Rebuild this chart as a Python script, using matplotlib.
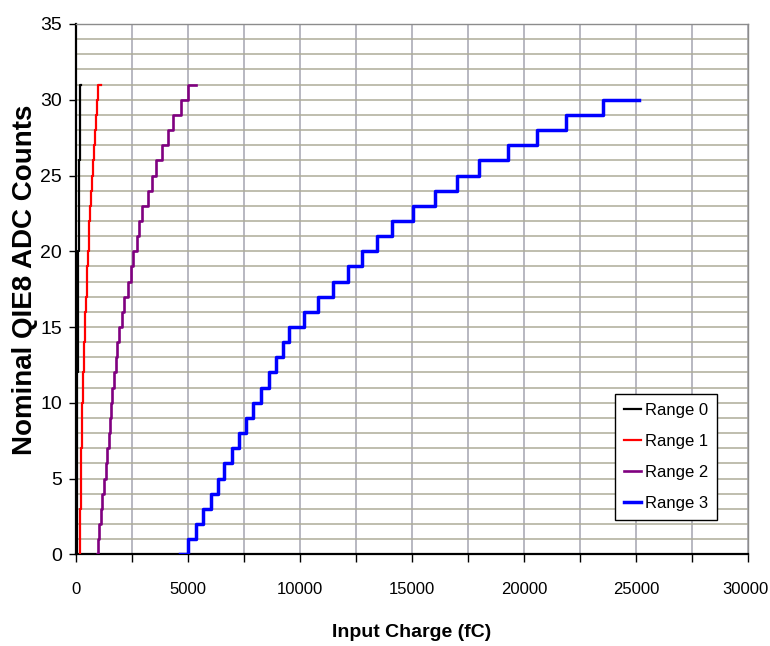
import matplotlib
matplotlib.use("Agg")
import matplotlib.pyplot as plt
import matplotlib.transforms as mtransforms
from matplotlib.ticker import MultipleLocator

# ---- data (transition points: x where the count becomes y; last point closes the step) ----
range0_x = [35, 37, 38, 40, 42, 44, 46, 47, 50, 53, 56, 60, 66, 71, 74, 78, 80,
            89, 95, 101, 107, 113, 120, 127, 134, 143, 152, 160, 169, 178, 188, 197, 215]
range0_y = list(range(0, 32)) + [31]

range1_x = [175, 185, 192, 200, 210, 220, 228, 237, 250, 265, 281, 300, 330, 357, 372, 388, 402,
            447, 475, 505, 536, 567, 600, 635, 670, 715, 759, 800, 845, 890, 940, 985, 1100]
range1_y = list(range(0, 32)) + [31]

range2_x = [920, 970, 1040, 1115, 1175, 1240, 1325, 1400, 1460, 1520, 1565, 1625, 1700, 1775, 1845,
            1930, 2040, 2157, 2336, 2443, 2561, 2710, 2814, 2960, 3202, 3381, 3573, 3827, 4095,
            4346, 4690, 5016, 5360]
range2_y = list(range(0, 32)) + [31]

range3_x = [4650, 5000, 5346, 5686, 6016, 6329, 6624, 6954, 7294, 7579, 7919, 8263, 8607, 8933,
            9232, 9527, 10183, 10822, 11492, 12162, 12787, 13430, 14100, 15038, 16034, 17030,
            18000, 19281, 20576, 21885, 23506, 25145]
range3_y = list(range(0, 31)) + [30]

series_names = ["Range 0", "Range 1", "Range 2", "Range 3"]
series_colors = ["#000000", "#ff0000", "#800080", "#0000ff"]
series_widths = [1.6, 1.6, 1.9, 2.5]

x_ticks = [0, 5000, 10000, 15000, 20000, 25000, 30000]
y_ticks = [0, 5, 10, 15, 20, 25, 30, 35]

FONT = "Liberation Sans"

fig = plt.figure(figsize=(7.7, 6.46), dpi=100)
ax = fig.add_axes([76 / 770, 1 - 554.3 / 646, 672 / 770, 530.3 / 646])

for xs, ys, name, c, lw in zip([range0_x, range1_x, range2_x, range3_x],
                               [range0_y, range1_y, range2_y, range3_y],
                               series_names, series_colors, series_widths):
    ax.plot(xs, ys, drawstyle="steps-post", color=c, lw=lw, label=name, zorder=3)

ax.set_xlim(0, 30000)
ax.set_ylim(0, 35)
ax.set_xticks(x_ticks)
ax.xaxis.set_minor_locator(MultipleLocator(2500))
ax.set_yticks(y_ticks)
ax.yaxis.set_minor_locator(MultipleLocator(1))

ax.grid(which="both", axis="y", color="#aeac98", lw=1.1, zorder=0)
ax.grid(which="both", axis="x", color="#a4a4b0", lw=1.1, zorder=0)
ax.set_axisbelow(True)

ax.tick_params(axis="x", which="both", direction="out", length=6, width=1, color="black",
               pad=14)
ax.tick_params(axis="y", which="major", direction="out", length=5, width=1, color="black", pad=5)
ax.tick_params(axis="y", which="minor", length=0)

xlabels = ax.get_xticklabels()
for lbl in xlabels:
    lbl.set_fontfamily(FONT)
    lbl.set_fontsize(12)
# nudge the last label a little so it stays inside the canvas
xlabels[-1].set_transform(xlabels[-1].get_transform() +
                          mtransforms.ScaledTranslation(-3 / 100, 0, fig.dpi_scale_trans))
for lbl in ax.get_yticklabels():
    lbl.set_fontfamily(FONT)
    lbl.set_fontsize(14)

for s in ["left", "bottom"]:
    ax.spines[s].set_color("black")
    ax.spines[s].set_linewidth(1.6)
for s in ["top", "right"]:
    ax.spines[s].set_color("#8c8c8c")
    ax.spines[s].set_linewidth(1.0)

ax.set_ylabel("Nominal QIE8 ADC Counts", fontfamily=FONT, fontweight="bold", fontsize=20)
ax.yaxis.set_label_coords(-0.056, 0.517)
ax.set_xlabel("Input Charge (fC)", fontfamily=FONT, fontweight="bold", fontsize=14)
ax.xaxis.set_label_coords(0.5, -0.147)
ax.xaxis.label.set_verticalalignment("center")

leg = ax.legend(loc="upper right", bbox_to_anchor=(0.954, 0.302), borderaxespad=0,
                prop={"family": FONT, "size": 12}, handlelength=1.05, handletextpad=0.2,
                borderpad=0.55, labelspacing=0.95, fancybox=False, framealpha=1,
                edgecolor="black")
leg.get_frame().set_linewidth(1.0)

fig.savefig("out.png", dpi=100)
